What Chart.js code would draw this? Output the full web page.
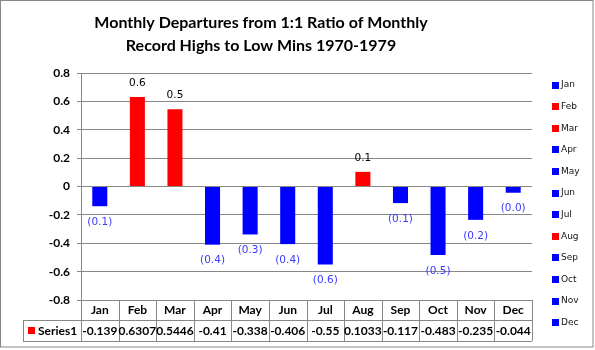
<!DOCTYPE html>
<html>
<head>
<meta charset="utf-8">
<script src="https://cdn.jsdelivr.net/npm/chart.js@4"></script>
<style>
  html, body { margin: 0; padding: 0; background: #fff; }
  canvas { display: block; }
</style>
</head>
<body>
<canvas id="ratioChart" width="595" height="350"></canvas>
<script>
const months = ["Jan", "Feb", "Mar", "Apr", "May", "Jun", "Jul", "Aug", "Sep", "Oct", "Nov", "Dec"];
const series1 = [-0.139, 0.6307, 0.5446, -0.41, -0.338, -0.406, -0.55, 0.1033, -0.117, -0.483, -0.235, -0.044];
const barColors = ["#0000ff", "#ff0000", "#ff0000", "#0000ff", "#0000ff", "#0000ff", "#0000ff", "#ff0000", "#0000ff", "#0000ff", "#0000ff", "#0000ff"];
const yTicks = [-0.8, -0.6, -0.4, -0.2, 0, 0.2, 0.4, 0.6, 0.8];
const titleLines = ["Monthly Departures from 1:1 Ratio of Monthly", "Record Highs to Low Mins 1970-1979"];
const seriesName = "Series1";

const gridGray = "#878787";
const boldFont = "bold 12px Lato";

// title, data labels, legend and the data table under the axis
const extras = {
  id: "extras",
  afterDraw(chart) {
    const ctx = chart.ctx;
    const area = chart.chartArea;
    const xs = chart.scales.x;
    const meta = chart.getDatasetMeta(0);

    ctx.save();

    // title
    ctx.fillStyle = "#000";
    ctx.font = "bold 16px Lato";
    ctx.textAlign = "center";
    ctx.textBaseline = "middle";
    ctx.fillText(titleLines[0], 261, 23);
    ctx.fillText(titleLines[1], 261, 46);

    // bar labels
    ctx.font = "10.5px 'DejaVu Sans'";
    meta.data.forEach((bar, i) => {
      const v = series1[i];
      if (v >= 0) {
        ctx.fillStyle = "#000";
        ctx.fillText(v.toFixed(1), bar.x, bar.y - 13.5);
      } else {
        ctx.fillStyle = "#3a3aff";
        ctx.fillText("(" + Math.abs(v).toFixed(1) + ")", bar.x, bar.y + 16);
      }
    });

    // legend, one entry per month
    ctx.font = "9px 'DejaVu Sans'";
    ctx.textAlign = "left";
    months.forEach((m, i) => {
      const cy = 85 + i * 21.6;
      ctx.fillStyle = barColors[i];
      ctx.fillRect(552, Math.round(cy - 3.5), 7, 7);
      ctx.fillStyle = "#111";
      ctx.fillText(m, 561, cy);
    });

    // data table
    const top = area.bottom;
    const mid = top + 20;
    const bot = mid + 21;
    const left = 23;
    ctx.strokeStyle = gridGray;
    ctx.lineWidth = 1;
    ctx.beginPath();
    ctx.moveTo(area.left + 0.5, top);
    ctx.lineTo(area.left + 0.5, bot);
    ctx.moveTo(left, mid + 0.5);
    ctx.lineTo(area.right, mid + 0.5);
    ctx.moveTo(left, bot + 0.5);
    ctx.lineTo(area.right, bot + 0.5);
    ctx.moveTo(left + 0.5, mid);
    ctx.lineTo(left + 0.5, bot);
    const colW = (area.right - area.left) / months.length;
    for (let i = 1; i <= months.length; i++) {
      const x = Math.round(area.left + i * colW) + 0.5;
      ctx.moveTo(x, top);
      ctx.lineTo(x, bot);
    }
    ctx.stroke();

    ctx.fillStyle = "#000";
    ctx.font = boldFont;
    ctx.textAlign = "center";
    months.forEach((m, i) => {
      const x = xs.getPixelForValue(i);
      ctx.fillText(m, x, top + 10.5);
      ctx.fillText(String(series1[i]), x, mid + 11);
    });
    ctx.fillStyle = "#ff0000";
    ctx.fillRect(28, mid + 7, 7, 7);
    ctx.fillStyle = "#000";
    ctx.textAlign = "left";
    ctx.fillText(seriesName, 38, mid + 11);

    // outer frame
    ctx.strokeStyle = gridGray;
    ctx.strokeRect(0.5, 0.5, 592.5, 346.5);
    ctx.restore();
  }
};

new Chart(document.getElementById("ratioChart"), {
  type: "bar",
  data: {
    labels: months,
    datasets: [{
      label: seriesName,
      data: series1,
      backgroundColor: barColors,
      barPercentage: 0.4,
      categoryPercentage: 1.0
    }]
  },
  options: {
    responsive: false,
    animation: false,
    devicePixelRatio: 1,
    layout: { padding: { top: 73, right: 63, bottom: 50, left: 0 } },
    plugins: {
      legend: { display: false },
      title: { display: false },
      tooltip: { enabled: false }
    },
    scales: {
      x: { display: false },
      y: {
        min: -0.8,
        max: 0.8,
        afterFit(scale) { scale.width = 81; },
        afterBuildTicks(scale) { scale.ticks = yTicks.map(v => ({ value: v })); },
        ticks: {
          font: { family: "Lato", size: 12, weight: "bold" },
          color: "#000",
          padding: 7,
          callback: v => String(Math.round(v * 10) / 10)
        },
        grid: { color: gridGray, tickLength: 4, lineWidth: 1 },
        border: { color: gridGray }
      }
    }
  },
  plugins: [extras]
});
</script>
</body>
</html>
